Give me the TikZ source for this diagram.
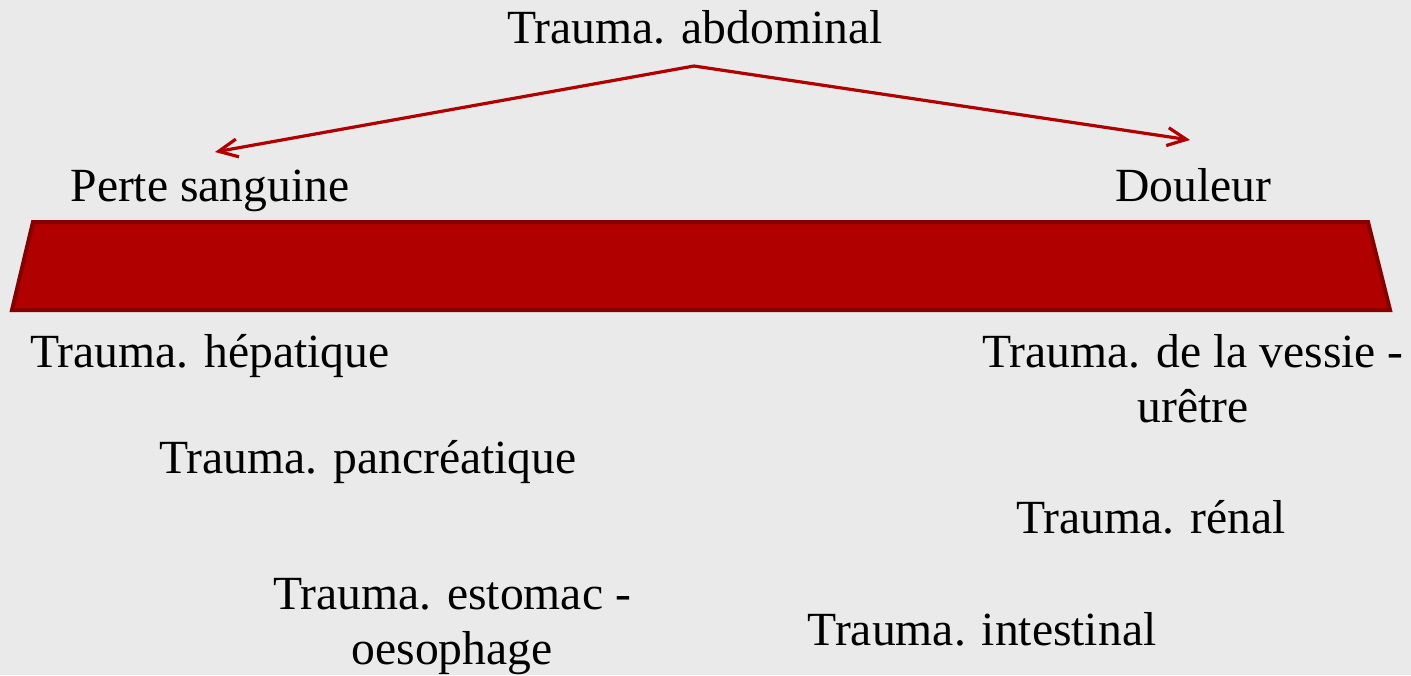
\documentclass[tikz,border=0pt]{standalone}
\usepackage{fontspec}
\setmainfont{Liberation Serif}
\usetikzlibrary{positioning, arrows.meta}
\definecolor{paper}{RGB}{234, 234, 234}
\definecolor{bloodred}{RGB}{176, 0, 0}
\definecolor{darkblood}{RGB}{135, 0, 0}

\begin{document}
\begin{tikzpicture}[x=0.5pt, y=-0.5pt,
      lbl/.style={inner sep=0pt, anchor=base, align=center, text=black,
                  font=\fontsize{23.8}{27.5}\selectfont},
      arr/.style={-{Straight Barb[length=9.5pt, width=9pt]}, line width=1.6pt, color=bloodred}]
    \fill[paper] (0,0) rectangle (1411,675);
    \useasboundingbox (0,0) rectangle (1411,675);
    % bar
    \draw[fill=bloodred, draw=darkblood, line width=2pt]
      (33,222) -- (1368,222) -- (1390,310) -- (12,310) -- cycle;
    \node[lbl] (abd) at (695,43) {Trauma. abdominal};
    \node[lbl] (perte) at (210,201) {Perte sanguine};
    \node[lbl] (doul) at (1193,201) {Douleur};
    \coordinate (apex) at (694,66);
    \coordinate (tipL) at (215,152);
    \coordinate (tipR) at (1190,140);
    \draw[arr] (apex) -- (tipL);
    \draw[arr] (apex) -- (tipR);
    % multi-line labels sit on the baseline of their last line
    \node[lbl] (hep) at (210,367) {Trauma. hépatique};
    \node[lbl] (panc) at (368,473) {Trauma. pancréatique};
    \node[lbl] (esto) at (452,664) {Trauma. estomac -\\oesophage};
    \node[lbl] (vess) at (1193,422) {Trauma. de la vessie -\\urêtre};
    \node[lbl] (ren) at (1151,533) {Trauma. rénal};
    \node[lbl] (intest) at (982,645) {Trauma. intestinal};
  \end{tikzpicture}
\end{document}
